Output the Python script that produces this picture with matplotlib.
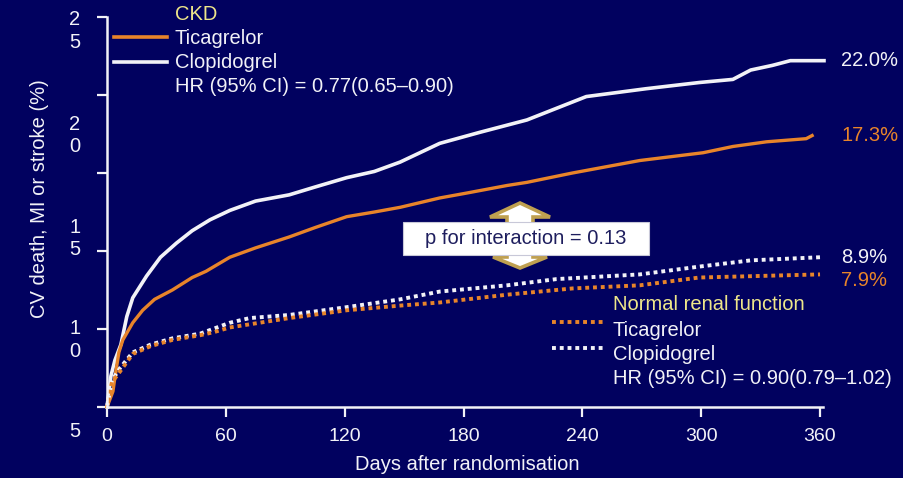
import matplotlib
matplotlib.use('Agg')
import matplotlib.pyplot as plt
from matplotlib.lines import Line2D
from matplotlib.patches import Polygon, Rectangle

plt.rcParams['font.family'] = ['Liberation Sans', 'DejaVu Sans']

# ---- data ----
ckd_clop_days = [0, 2, 4, 7, 10, 13, 20, 27, 35, 43, 52, 62, 75, 92, 105, 121, 135,
                 148, 168, 188, 212, 242, 272, 299, 316, 325, 336, 345, 362]
ckd_clop_pct = [0, 2.0, 3.0, 4.0, 5.8, 7.0, 8.4, 9.6, 10.5, 11.3, 12.0, 12.6, 13.2, 13.6,
                14.1, 14.7, 15.1, 15.7, 16.9, 17.6, 18.4, 19.9, 20.4, 20.8, 21.0, 21.6,
                21.9, 22.2, 22.2]

ckd_tica_days = [0, 3, 4, 6, 8, 13, 18, 24, 33, 43, 50, 62, 75, 92, 105, 121, 135, 148,
                 168, 181, 202, 212, 235, 269, 301, 316, 333, 353, 356]
ckd_tica_pct = [0, 1.0, 1.9, 3.5, 4.3, 5.4, 6.2, 6.9, 7.5, 8.3, 8.7, 9.6, 10.2, 10.9, 11.5,
                12.2, 12.5, 12.8, 13.4, 13.7, 14.2, 14.4, 15.0, 15.8, 16.3, 16.7, 17.0,
                17.2, 17.4]

nrf_clop_days = [0, 2.5, 6.6, 13, 22, 33, 47, 62, 72, 92, 121, 148, 168, 202, 227, 269,
                 299, 325, 360]
nrf_clop_pct = [0, 1.7, 2.5, 3.5, 4.0, 4.4, 4.7, 5.4, 5.7, 5.9, 6.4, 6.9, 7.4, 7.8, 8.2,
                8.5, 9.0, 9.4, 9.6]

nrf_tica_days = [0, 2.5, 5, 13, 22, 33, 47, 54, 62, 72, 92, 121, 148, 168, 202, 235, 269,
                 299, 360]
nrf_tica_pct = [0, 1.6, 2.0, 3.4, 3.9, 4.3, 4.6, 4.8, 5.1, 5.3, 5.7, 6.2, 6.5, 6.7, 7.2,
                7.6, 7.8, 8.3, 8.5]

end_labels = ['22.0%', '17.3%', '8.9%', '7.9%']
x_ticks = [0, 60, 120, 180, 240, 300, 360]
y_ticks = [0, 5, 10, 15, 20, 25]
# the slide's y labels are wrapped one digit per line and sit off their ticks
y_tick_text = ['5', '10', '15', '20', '25']
y_tick_text_pos = [-1.6, 4.3, 10.8, 17.4, 24.1]

BG = '#01015F'
ORANGE = '#E8842A'
WHITE = '#F2F2F7'
YELLOW = '#EEE68A'
GOLD = '#BFA050'
NAVY_TXT = '#1E1E5E'

W, H = 904, 478


def fx(px):
    return px / W


def fy(py):
    return 1 - py / H


fig = plt.figure(figsize=(9.04, 4.78), dpi=100, facecolor=BG)
ax = fig.add_axes([fx(107), fy(407), 716 / W, 390 / H])
ax.set_facecolor(BG)

# ---- curves ----
ax.plot(ckd_clop_days, ckd_clop_pct, color=WHITE, lw=2.6, clip_on=False)
ax.plot(ckd_tica_days, ckd_tica_pct, color=ORANGE, lw=2.4, clip_on=False)
ax.plot(nrf_clop_days, nrf_clop_pct, color=WHITE, lw=2.8, ls=(0, (1, 1)),
        dash_capstyle='butt', clip_on=False)
ax.plot(nrf_tica_days, nrf_tica_pct, color=ORANGE, lw=2.8, ls=(0.5, (1, 1)),
        dash_capstyle='butt', clip_on=False)

# end-of-curve percentages
ends = [(ckd_clop_pct[-1], WHITE, 0), (ckd_tica_pct[-1], ORANGE, 0),
        (nrf_clop_pct[-1], WHITE, 0), (nrf_tica_pct[-1], ORANGE, -6)]
for lab, (yv, col, dy) in zip(end_labels, ends):
    ax.annotate(lab, xy=(360, yv), xytext=(21, dy), textcoords='offset pixels',
                ha='left', va='center', color=col, fontsize=14.5, annotation_clip=False)

# ---- axes ----
ax.set_xlim(0, 361.5)
ax.set_ylim(0, 25)
for s in ['top', 'right']:
    ax.spines[s].set_visible(False)
for s in ['left', 'bottom']:
    ax.spines[s].set_color(WHITE)
    ax.spines[s].set_linewidth(1.8)
ax.set_xticks(x_ticks)
ax.set_yticks(y_ticks)
ax.tick_params(axis='both', colors=WHITE, direction='out', length=7.2, width=1.6)
ax.tick_params(axis='x', labelsize=14, pad=8, labelcolor=WHITE)
ax.tick_params(axis='y', labelleft=False)

for t, yv in zip(y_tick_text, y_tick_text_pos):
    ax.text(-0.045, yv, '\n'.join(t), transform=ax.get_yaxis_transform(),
            ha='center', va='center', color=WHITE, fontsize=14.5, linespacing=1.25,
            clip_on=False)

fig.text(fx(40), fy(199), 'CV death, MI or stroke (%)', rotation=90,
         ha='center', va='center', color=WHITE, fontsize=14.5)
fig.text(fx(467), fy(464), 'Days after randomisation', ha='center', va='center',
         color=WHITE, fontsize=14.5)

# ---- legends ----
fig.text(fx(175), fy(14), 'CKD', color=YELLOW, fontsize=14.5, va='center')
fig.text(fx(175), fy(38), 'Ticagrelor', color=WHITE, fontsize=14.5, va='center')
fig.text(fx(175), fy(63), 'Clopidogrel', color=WHITE, fontsize=14.5, va='center')
fig.text(fx(175), fy(87), 'HR (95% CI) = 0.77(0.65\u20130.90)', color=WHITE,
         fontsize=14.5, va='center')
fig.add_artist(Line2D([fx(114), fx(167)], [fy(37), fy(37)], color=ORANGE, lw=2.6))
fig.add_artist(Line2D([fx(114), fx(167)], [fy(62), fy(62)], color=WHITE, lw=2.6))

fig.text(fx(613), fy(305), 'Normal renal function', color=YELLOW, fontsize=14.5, va='center')
fig.text(fx(613), fy(330), 'Ticagrelor', color=WHITE, fontsize=14.5, va='center')
fig.text(fx(613), fy(355), 'Clopidogrel', color=WHITE, fontsize=14.5, va='center')
fig.text(fx(613), fy(379), 'HR (95% CI) = 0.90(0.79\u20131.02)', color=WHITE,
         fontsize=14.5, va='center')
fig.add_artist(Line2D([fx(552), fx(604)], [fy(322), fy(322)], color=ORANGE, lw=2.8,
                      ls=(0, (1, 1)), dash_capstyle='butt'))
fig.add_artist(Line2D([fx(552), fx(604)], [fy(348), fy(348)], color=WHITE, lw=2.8,
                      ls=(0, (1, 1)), dash_capstyle='butt'))

# ---- interaction box with double arrow ----
up = [(520, 203), (550, 217), (533, 217), (533, 226), (507, 226), (507, 217), (490, 217)]
down = [(507, 251), (533, 251), (533, 257), (547, 257), (520, 268), (493, 257), (507, 257)]
for pts in (up, down):
    fig.add_artist(Polygon([(fx(a), fy(b)) for a, b in pts], closed=True,
                           transform=fig.transFigure, facecolor='white',
                           edgecolor=GOLD, lw=2.6, joinstyle='miter', zorder=3))
fig.add_artist(Rectangle((fx(403), fy(255)), (649 - 403) / W, (255 - 222) / H,
                         transform=fig.transFigure, facecolor='white',
                         edgecolor='#C8C8D8', lw=0.8, zorder=4))
fig.text(fx(526), fy(238.5), 'p for interaction = 0.13', ha='center', va='center',
         color=NAVY_TXT, fontsize=14.5, zorder=5)

fig.savefig('out.png', dpi=100, facecolor=BG)
